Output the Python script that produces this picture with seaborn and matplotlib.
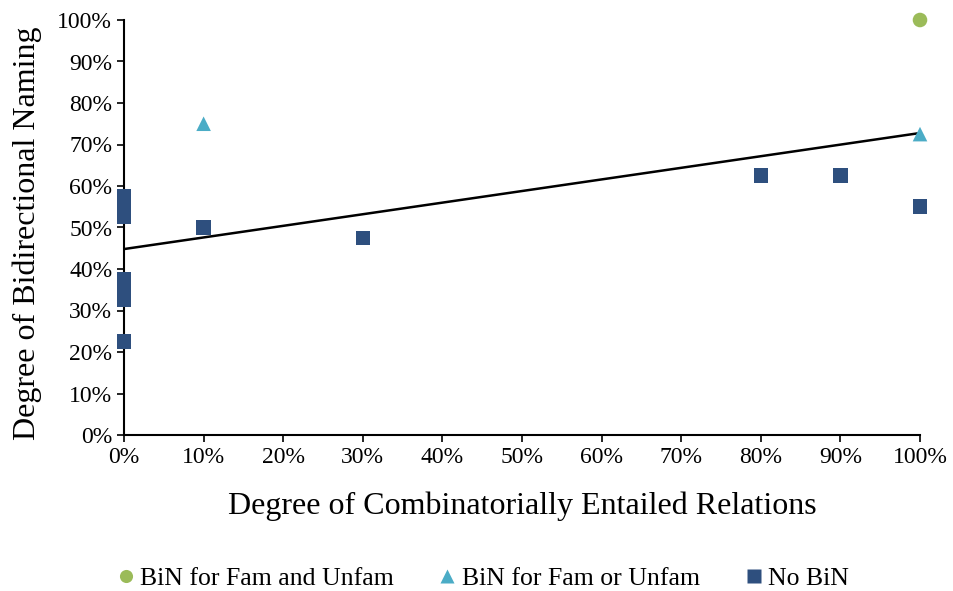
import numpy as np
import pandas as pd
import matplotlib.pyplot as plt
import seaborn as sns
from matplotlib.ticker import PercentFormatter

# data (percent)
fam_and_unfam_x = [100]
fam_and_unfam_y = [100]
fam_or_unfam_x = [10, 100]
fam_or_unfam_y = [75, 72.5]
no_bin_x = [0, 0, 0, 0, 0, 0, 0, 10, 30, 80, 90, 100]
no_bin_y = [57.5, 55, 52.5, 37.5, 35, 32.5, 22.5, 50, 47.5, 62.5, 62.5, 55]

groups = ['BiN for Fam and Unfam', 'BiN for Fam or Unfam', 'No BiN']
colors = {'BiN for Fam and Unfam': '#9BBB59', 'BiN for Fam or Unfam': '#4BACC6', 'No BiN': '#2E4F7E'}
markers = {'BiN for Fam and Unfam': 'o', 'BiN for Fam or Unfam': '^', 'No BiN': 's'}

df = pd.concat([
    pd.DataFrame({'x': fam_and_unfam_x, 'y': fam_and_unfam_y, 'group': groups[0]}),
    pd.DataFrame({'x': fam_or_unfam_x, 'y': fam_or_unfam_y, 'group': groups[1]}),
    pd.DataFrame({'x': no_bin_x, 'y': no_bin_y, 'group': groups[2]}),
], ignore_index=True)

sns.set_style("ticks")
plt.rcParams['font.family'] = ['Liberation Serif', 'DejaVu Serif']
plt.rcParams['text.color'] = 'black'
plt.rcParams['axes.labelcolor'] = 'black'

fig = plt.figure(figsize=(9.54, 5.91), dpi=100)
ax = fig.add_axes([124 / 954, 1 - 435 / 591, (920 - 124) / 954, (435 - 20) / 591])

# linear trendline over all points
sns.regplot(data=df, x='x', y='y', ax=ax, scatter=False, ci=None, truncate=True,
            line_kws={'color': 'black', 'lw': 1.8, 'zorder': 2})

sns.scatterplot(data=df, x='x', y='y', hue='group', style='group', hue_order=groups,
                style_order=groups, palette=colors, markers=markers, s=110,
                edgecolor='none', ax=ax, zorder=3, clip_on=False)

ax.set_xlim(0, 100)
ax.set_ylim(0, 100)
ax.set_xticks(np.arange(0, 101, 10))
ax.set_yticks(np.arange(0, 101, 10))
ax.xaxis.set_major_formatter(PercentFormatter(100, decimals=0))
ax.yaxis.set_major_formatter(PercentFormatter(100, decimals=0))
ax.tick_params(labelsize=17, length=5, width=1.2, color='black', labelcolor='black')
for s in ['top', 'right']:
    ax.spines[s].set_visible(False)
for s in ['left', 'bottom']:
    ax.spines[s].set_color('black')
    ax.spines[s].set_linewidth(1.5)

ax.set_xlabel('Degree of Combinatorially Entailed Relations', fontsize=23, labelpad=17)
ax.set_ylabel('Degree of Bidirectional Naming', fontsize=23)
ax.yaxis.set_label_coords(-0.103, 0.485)

handles, labels = ax.get_legend_handles_labels()
ax.legend(handles, labels, loc='center', bbox_to_anchor=(0.44, -0.345), ncol=3,
          frameon=False, fontsize=18.5, handletextpad=-0.45, columnspacing=1.1, markerscale=0.9)

fig.savefig('out.png', dpi=100)
